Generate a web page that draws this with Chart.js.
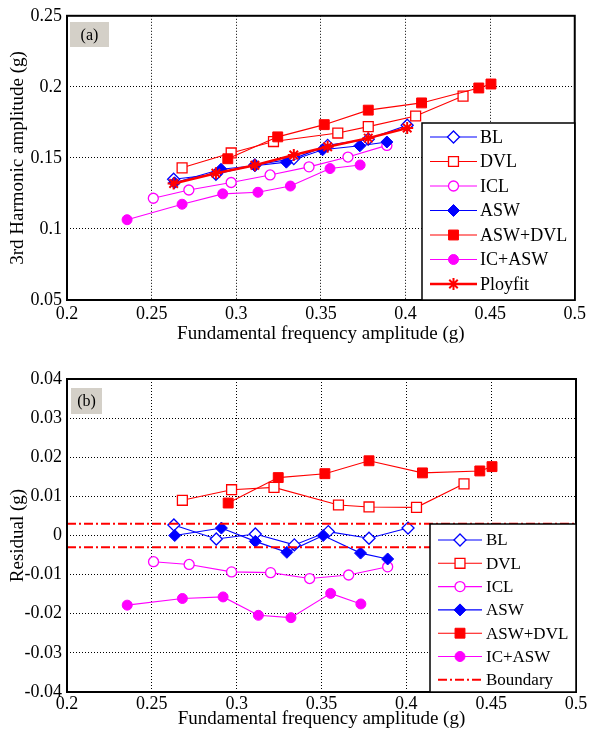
<!DOCTYPE html>
<html>
<head>
<meta charset="utf-8">
<script src="https://cdn.jsdelivr.net/npm/chart.js@4/dist/chart.umd.min.js"></script>
<style>
  html, body { margin: 0; padding: 0; background: #fff; }
  #wrap { position: relative; width: 589px; height: 729px; }
  canvas { position: absolute; left: 0; }
</style>
</head>
<body>
<div id="wrap">
  <canvas id="chartA" width="589" height="356" style="top:0"></canvas>
  <canvas id="chartB" width="589" height="373" style="top:356px"></canvas>
</div>
<script>
// ---- data ----
var xTicks = [0.2, 0.25, 0.3, 0.35, 0.4, 0.45, 0.5];
var yTicksA = [0.05, 0.1, 0.15, 0.2, 0.25];
var yTicksB = [-0.04, -0.03, -0.02, -0.01, 0, 0.01, 0.02, 0.03, 0.04];

var blX = [0.263, 0.288, 0.311, 0.334, 0.354, 0.378, 0.401];
var dvlX = [0.268, 0.297, 0.322, 0.360, 0.378, 0.406, 0.434];
var iclX = [0.251, 0.272, 0.297, 0.320, 0.343, 0.366, 0.389];
var aswX = [0.2635, 0.291, 0.311, 0.3296, 0.351, 0.373, 0.389];
var aswDvlX = [0.295, 0.3245, 0.352, 0.378, 0.4095, 0.4433, 0.4505];
var icAswX = [0.2355, 0.268, 0.292, 0.3128, 0.332, 0.3554, 0.3732];

// (a) 3rd harmonic amplitude
var blY = [0.135, 0.1385, 0.145, 0.1495, 0.1588, 0.1632, 0.173];
var dvlY = [0.143, 0.1535, 0.1615, 0.1675, 0.172, 0.1795, 0.1935];
var iclY = [0.1216, 0.1274, 0.1327, 0.138, 0.1437, 0.1506, 0.1588];
var aswY = [0.1325, 0.142, 0.1445, 0.147, 0.1557, 0.1585, 0.1612];
var aswDvlY = [0.1494, 0.1648, 0.1734, 0.1836, 0.1887, 0.1992, 0.202];
var icAswY = [0.1065, 0.1174, 0.1247, 0.1258, 0.1302, 0.1425, 0.145];
var fitY = [0.132, 0.1392, 0.1448, 0.152, 0.1578, 0.1639, 0.171];

// (b) residuals
var blR = [0.0027, -0.0009, 0.0004, -0.0024, 0.001, -0.0007, 0.0019];
var dvlR = [0.009, 0.0117, 0.0123, 0.0078, 0.0073, 0.0072, 0.0132];
var iclR = [-0.0067, -0.0074, -0.0093, -0.0095, -0.011, -0.0101, -0.008];
var aswR = [0.0, 0.0019, -0.0015, -0.0043, 0.0, -0.0045, -0.006];
var aswDvlR = [0.0083, 0.0148, 0.0158, 0.0191, 0.016, 0.0165, 0.0176];
var icAswR = [-0.0178, -0.0161, -0.0157, -0.0204, -0.021, -0.0148, -0.0175];
var boundary = 0.003;

var SERIF = "'Liberation Serif', 'Times New Roman', serif";
var BLUE = '#0000ff', RED = '#ff0000', MAG = '#ff00ff';

function pts(xs, ys) {
  return xs.map(function (x, i) { return { x: x, y: ys[i] }; });
}

function series(label, data, color, style, filled, radius, idx) {
  return {
    label: label, data: data, showLine: true,
    borderColor: color, borderWidth: 1.1,
    pointStyle: style, pointRadius: radius, pointHoverRadius: radius,
    pointBackgroundColor: filled ? color : '#fff',
    pointBorderColor: color, pointBorderWidth: filled ? 1 : 1.3,
    tension: 0, order: 20 - idx
  };
}

// frame, panel tag and boxed legend drawn over the data
var decor = {
  id: 'decor',
  afterDatasetsDraw: function (chart, args, o) {
    var ctx = chart.ctx, a = chart.chartArea;
    ctx.save();
    ctx.setLineDash([]);
    ctx.strokeStyle = '#000';
    ctx.lineWidth = 2;
    ctx.strokeRect(a.left, a.top, a.right - a.left, a.bottom - a.top);

    // panel tag
    ctx.fillStyle = '#d4d0c8';
    ctx.fillRect(o.tag[0], o.tag[1], o.tag[2], o.tag[3]);
    ctx.fillStyle = '#000';
    ctx.font = '16px ' + SERIF;
    ctx.textAlign = 'center';
    ctx.textBaseline = 'middle';
    ctx.fillText(o.tagText, o.tag[0] + o.tag[2] / 2, o.tag[1] + o.tag[3] / 2 + 1);

    // legend box
    ctx.fillStyle = '#fff';
    ctx.fillRect(o.left, o.top, a.right - o.left, a.bottom - o.top);
    ctx.lineWidth = 1.5;
    ctx.strokeStyle = '#000';
    ctx.strokeRect(o.left, o.top, a.right - o.left, a.bottom - o.top);

    ctx.font = o.fontSize + 'px ' + SERIF;
    ctx.textAlign = 'left';
    chart.data.datasets.forEach(function (ds, i) {
      var y = o.row0 + i * o.gap;
      ctx.strokeStyle = ds.borderColor;
      ctx.lineWidth = ds.borderWidth;
      ctx.setLineDash(ds.borderDash || []);
      ctx.beginPath();
      ctx.moveTo(o.x0, y);
      ctx.lineTo(o.x1, y);
      ctx.stroke();
      ctx.setLineDash([]);
      if (ds.pointRadius > 0 && Chart.helpers && Chart.helpers.drawPoint) {
        ctx.fillStyle = ds.pointBackgroundColor;
        ctx.strokeStyle = ds.pointBorderColor;
        ctx.lineWidth = ds.pointBorderWidth;
        Chart.helpers.drawPoint(ctx, {
          pointStyle: ds.pointStyle, radius: ds.pointRadius,
          rotation: 0, borderWidth: ds.pointBorderWidth
        }, (o.x0 + o.x1) / 2, y);
      }
      ctx.fillStyle = '#000';
      ctx.textBaseline = 'middle';
      ctx.fillText(ds.label, o.tx, y + 1);
    });
    ctx.restore();
  }
};

function fmt(v) { return String(+v.toFixed(3)); }

function axes(yMin, yMax, yTicks, yTitle, xHeight, xTickPad, xTitlePad) {
  return {
    x: {
      type: 'linear', min: 0.2, max: 0.5,
      afterBuildTicks: function (s) { s.ticks = xTicks.map(function (v) { return { value: v }; }); },
      afterFit: function (s) { s.height = xHeight; },
      grid: { color: '#000', lineWidth: 1, drawTicks: false },
      border: { display: false, dash: [1, 2] },
      ticks: { color: '#000', font: { family: SERIF, size: 18 }, padding: xTickPad, maxRotation: 0, callback: fmt },
      title: { display: true, text: 'Fundamental frequency amplitude (g)', color: '#000',
               font: { family: SERIF, size: 19, lineHeight: 1 }, padding: { top: 0, bottom: xTitlePad } }
    },
    y: {
      type: 'linear', min: yMin, max: yMax,
      afterBuildTicks: function (s) { s.ticks = yTicks.map(function (v) { return { value: v }; }); },
      afterFit: function (s) { s.width = 67; },
      grid: { color: '#000', lineWidth: 1, drawTicks: false },
      border: { display: false, dash: [1, 2] },
      ticks: { color: '#000', font: { family: SERIF, size: 18 }, padding: 5, callback: fmt },
      title: { display: true, text: yTitle, color: '#000',
               font: { family: SERIF, size: 19, lineHeight: 1 }, padding: { top: 9, bottom: 0 } }
    }
  };
}

var common = {
  responsive: false, animation: false, devicePixelRatio: 1,
  plugins: { legend: { display: false }, tooltip: { enabled: false } }
};

// ---- (a) ----
var dsA = [
  series('BL', pts(blX, blY), BLUE, 'rectRot', false, 6, 0),
  series('DVL', pts(dvlX, dvlY), RED, 'rect', false, 7, 1),
  series('ICL', pts(iclX, iclY), MAG, 'circle', false, 5, 2),
  series('ASW', pts(aswX, aswY), BLUE, 'rectRot', true, 6, 3),
  series('ASW+DVL', pts(aswDvlX, aswDvlY), RED, 'rect', true, 7, 4),
  series('IC+ASW', pts(icAswX, icAswY), MAG, 'circle', true, 5, 5),
  series('Ployfit', pts(blX, fitY), RED, 'star', false, 6, 6)
];
dsA[6].borderWidth = 2.5;
dsA[6].pointBorderWidth = 2;

new Chart(document.getElementById('chartA'), {
  type: 'scatter',
  data: { datasets: dsA },
  options: Object.assign({}, common, {
    layout: { padding: { top: 12, right: 13, left: 0, bottom: 0 } },
    scales: axes(0.05, 0.25, yTicksA, '3rd Harmonic amplitude (g)', 56, 3, 12.5),
    plugins: Object.assign({}, common.plugins, {
      decor: { tag: [70, 22, 39, 25], tagText: '(a)',
               left: 422, top: 123, row0: 137, gap: 24.5, x0: 430, x1: 477, tx: 480, fontSize: 18 }
    })
  }),
  plugins: [decor]
});

// ---- (b) ----
var dsB = [
  series('BL', pts(blX, blR), BLUE, 'rectRot', false, 6, 0),
  series('DVL', pts(dvlX, dvlR), RED, 'rect', false, 7, 1),
  series('ICL', pts(iclX, iclR), MAG, 'circle', false, 5, 2),
  series('ASW', pts(aswX, aswR), BLUE, 'rectRot', true, 6, 3),
  series('ASW+DVL', pts(aswDvlX, aswDvlR), RED, 'rect', true, 7, 4),
  series('IC+ASW', pts(icAswX, icAswR), MAG, 'circle', true, 5, 5),
  {
    label: 'Boundary', showLine: true, spanGaps: false,
    data: [{ x: 0.2, y: boundary }, { x: 0.5, y: boundary }, { x: 0.5, y: null },
           { x: 0.2, y: -boundary }, { x: 0.5, y: -boundary }],
    borderColor: RED, borderWidth: 2, borderDash: [9, 3, 2, 3],
    pointRadius: 0, pointHoverRadius: 0, order: 0
  }
];

new Chart(document.getElementById('chartB'), {
  type: 'scatter',
  data: { datasets: dsB },
  options: Object.assign({}, common, {
    layout: { padding: { top: 23, right: 13, left: 0, bottom: 0 } },
    scales: axes(-0.04, 0.04, yTicksB, 'Residual (g)', 37, 1, 0),
    plugins: Object.assign({}, common.plugins, {
      decor: { tag: [71, 32, 31, 26], tagText: '(b)',
               left: 430, top: 168, row0: 184, gap: 23.3, x0: 438, x1: 482, tx: 486, fontSize: 17 }
    })
  }),
  plugins: [decor]
});
</script>
</body>
</html>
